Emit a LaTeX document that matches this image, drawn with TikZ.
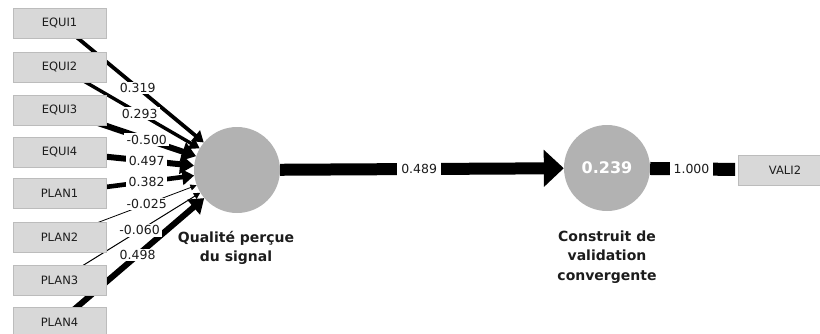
\documentclass[tikz,border=0pt]{standalone}
\usepackage{fontspec}
\setmainfont{DejaVu Sans}
\usetikzlibrary{arrows.meta}
\pgfdeclarelayer{bg}
\pgfsetlayers{bg,main}
\definecolor{boxfill}{RGB}{216,216,216}
\definecolor{boxline}{RGB}{188,188,188}
\definecolor{lvfill}{RGB}{178,178,178}
\definecolor{txt}{RGB}{28,28,28}
\begin{document}
\begin{tikzpicture}[x=1pt,y=-1pt,
  indbox/.style={draw=boxline, line width=0.8pt, fill=boxfill, minimum width=93pt, minimum height=30pt,
    inner sep=0pt, font=\fontsize{11.5}{13}\selectfont, text=txt},
  lv/.style={circle, fill=lvfill, minimum size=86pt, inner sep=0pt},
  lvname/.style={align=center, font=\bfseries\fontsize{14}{19.5}\selectfont, text=txt},
  wlabel/.style={fill=white, inner xsep=2.5pt, inner ysep=1.5pt, font=\fontsize{12.5}{14}\selectfont, text=txt},
  biglabel/.style={wlabel, inner xsep=4pt, inner ysep=4pt},
  conn/.style={line width=#1, -{Triangle[length=5pt 1.5, width=4pt 2.5]}},
  thickconn/.style={line width=#1},
]
\useasboundingbox (0,0) rectangle (820,333);

% indicator boxes
\node[indbox] (e1) at (59.5,23) {EQUI1};
\node[indbox] (e2) at (59.5,67) {EQUI2};
\node[indbox] (e3) at (59.5,110) {EQUI3};
\node[indbox] (e4) at (59.5,152) {EQUI4};
\node[indbox] (p1) at (59.5,193) {PLAN1};
\node[indbox] (p2) at (59.5,237) {PLAN2};
\node[indbox] (p3) at (59.5,280) {PLAN3};
\node[indbox] (p4) at (59.5,322) {PLAN4};
\node[indbox] (vali) at (785,170) {VALI2};

% latent variables
\node[lv] (q) at (237,170) {};
\node[lv, text=white, font=\bfseries\fontsize{16}{18}\selectfont] (v) at (607,168) {0.239};
\node[lvname] (qname) at (236,248) {Qualité perçue\\du signal};
\node[lvname] (vname) at (607,257) {Construit de\\validation\\convergente};

% outer connectors (behind the boxes)
\begin{pgfonlayer}{bg}
\draw[conn=3.8pt] (e1.center) -- (q);
\draw[conn=3.4pt] (e2.center) -- (q);
\draw[conn=6pt]   (e3.center) -- (q);
\draw[conn=6pt]   (e4.center) -- (q);
\draw[conn=4.6pt] (p1.center) -- (q);
\draw[conn=0.8pt] (p2.center) -- (q);
\draw[conn=1pt]   (p3.center) -- (q);
\draw[conn=6pt]   (p4.center) -- (q);
\end{pgfonlayer}

% weight labels
\path (e1.center) -- (q) node[wlabel, pos=0.542] {0.319};
\path (e2.center) -- (q) node[wlabel, pos=0.572] {0.293};
\path (e3.center) -- (q) node[wlabel, pos=0.639] {-0.500};
\path (e4.center) -- (q) node[wlabel, pos=0.648] {0.497};
\path (p1.center) -- (q) node[wlabel, pos=0.647] {0.382};
\path (p2.center) -- (q) node[wlabel, pos=0.636] {-0.025};
\path (p3.center) -- (q) node[wlabel, pos=0.569] {-0.060};
\path (p4.center) -- (q) node[wlabel, pos=0.540] {0.498};

% structural path
\draw[line width=12pt, -{Triangle[length=20pt, width=36pt]}] (q) -- (v)
  node[biglabel, pos=0.49] {0.489};

% outer loading
\draw[thickconn=13pt, shorten >=3pt] (v) -- (vali)
  node[biglabel, pos=0.47] {1.000};
\end{tikzpicture}
\end{document}
